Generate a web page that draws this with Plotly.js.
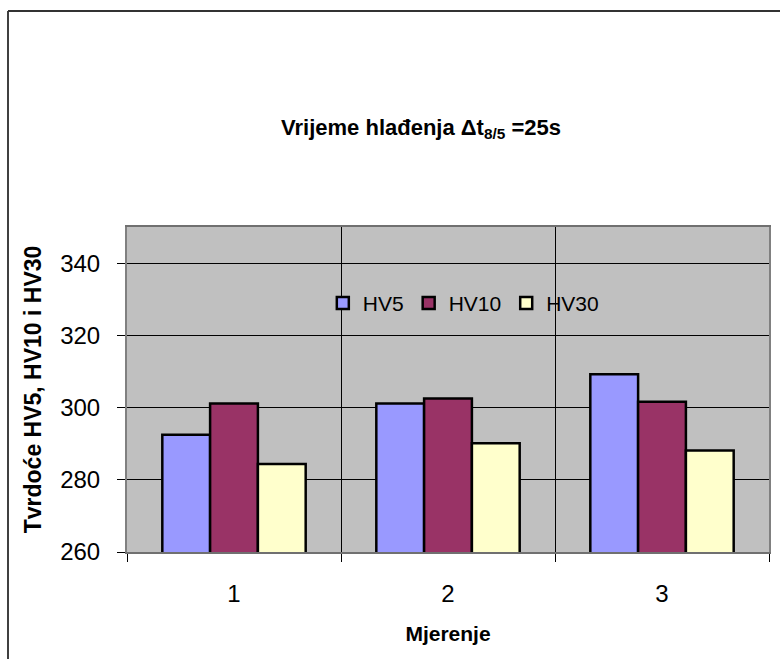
<!DOCTYPE html>
<html>
<head>
<meta charset="utf-8">
<script src="https://cdn.plot.ly/plotly-3.0.1.min.js"></script>
<style>
html,body{margin:0;padding:0;background:#fff;}
#chart{width:780px;height:659px;}
</style>
</head>
<body>
<div id="chart"></div>
<script>
const categories = ["1", "2", "3"];
const seriesNames = ["HV5", "HV10", "HV30"];
const hv5 = [292.5, 301.1, 309.2];
const hv10 = [301.1, 302.5, 301.6];
const hv30 = [284.4, 290.1, 288.1];
const yTicks = [260, 280, 300, 320, 340];

const colors = ["#9999FF", "#993366", "#FFFFCC"];
const values = [hv5, hv10, hv30];
const FONT = "Liberation Sans, Arial, sans-serif";

const traces = values.map((v, i) => ({
  type: "bar",
  name: seriesNames[i],
  x: categories,
  y: v,
  marker: {color: colors[i], line: {color: "#000000", width: 2.5}},
  hoverinfo: "skip"
}));

const layout = {
  width: 780,
  height: 659,
  margin: {l: 127, r: 11, t: 227, b: 107, pad: 0},
  paper_bgcolor: "#ffffff",
  plot_bgcolor: "#C0C0C0",
  font: {family: FONT, color: "#000000"},
  barmode: "group",
  bargap: 0.33,
  bargroupgap: 0,
  showlegend: true,
  title: {
    text: "<b>Vrijeme hlađenja Δt<sub>8/5</sub> =25s</b>",
    font: {family: FONT, size: 22, color: "#000"},
    xref: "paper", x: 0.458, xanchor: "center",
    yref: "container", y: 1 - 127 / 659, yanchor: "middle"
  },
  legend: {
    orientation: "h",
    x: 0.305, xanchor: "left",
    y: 0.765, yanchor: "middle",
    bgcolor: "rgba(0,0,0,0)",
    borderwidth: 0,
    font: {family: FONT, size: 21, color: "#000"},
    itemwidth: 30,
    traceorder: "normal"
  },
  xaxis: {
    type: "category",
    tickson: "boundaries",
    showgrid: true,
    gridcolor: "#000000",
    gridwidth: 1,
    ticks: "outside",
    ticklen: 8,
    tickcolor: "#000000",
    showline: true,
    linecolor: "#707070",
    linewidth: 2,
    mirror: true,
    tickfont: {family: FONT, size: 24, color: "#000"},
    ticklabelstandoff: 19,
    title: {text: "<b>Mjerenje</b>", font: {family: FONT, size: 21, color: "#000"}, standoff: 21},
    automargin: false,
    fixedrange: true
  },
  yaxis: {
    range: [260, 350],
    tickvals: yTicks,
    ticktext: yTicks.map(String),
    showgrid: true,
    gridcolor: "#000000",
    gridwidth: 1,
    zeroline: false,
    ticks: "outside",
    ticklen: 8,
    tickcolor: "#000000",
    showline: true,
    linecolor: "#808080",
    linewidth: 2,
    mirror: true,
    tickfont: {family: FONT, size: 24, color: "#000"},
    ticklabelstandoff: 12,
    title: {text: "<b>Tvrdoće HV5, HV10 i HV30</b>", font: {family: FONT, size: 23, color: "#000"}, standoff: 12},
    automargin: false,
    fixedrange: true
  },
  shapes: [
    {type: "line", xref: "paper", yref: "paper",
     x0: (8 - 127) / 642, x1: (8 - 127) / 642, y0: (552 - 11) / 325, y1: -1,
     line: {color: "#000000", width: 1.5}},
    {type: "line", xref: "paper", yref: "paper",
     x0: (8 - 127) / 642, x1: 2, y0: (552 - 11) / 325, y1: (552 - 11) / 325,
     line: {color: "#333333", width: 2}}
  ]
};

Plotly.newPlot("chart", traces, layout, {displayModeBar: false, staticPlot: true});
</script>
</body>
</html>
